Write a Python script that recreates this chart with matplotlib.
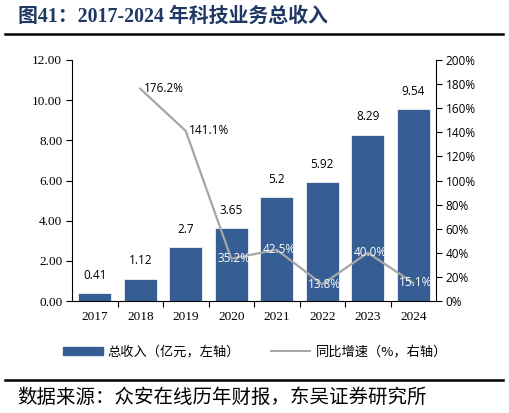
import matplotlib
matplotlib.use("Agg")
import matplotlib.pyplot as plt
from matplotlib.patches import Patch
from matplotlib.lines import Line2D
import numpy as np

years = ["2017", "2018", "2019", "2020", "2021", "2022", "2023", "2024"]
revenue = [0.41, 1.12, 2.7, 3.65, 5.2, 5.92, 8.29, 9.54]
growth_years_idx = [1, 2, 3, 4, 5, 6, 7]
growth = [176.2, 141.1, 35.2, 42.5, 13.8, 40.0, 15.1]
rev_labels = ["0.41", "1.12", "2.7", "3.65", "5.2", "5.92", "8.29", "9.54"]
left_ticks = [0, 2, 4, 6, 8, 10, 12]
right_ticks = [0, 20, 40, 60, 80, 100, 120, 140, 160, 180, 200]

title = "图41：2017-2024 年科技业务总收入"
source = "数据来源：众安在线历年财报，东吴证券研究所"
leg_bar = "总收入（亿元，左轴）"
leg_line = "同比增速（%，右轴）"

bar_color = "#365E94"
line_color = "#A6A6A6"
cjk = ["Liberation Serif", "Noto Sans CJK SC"]
cjk_sans = ["Noto Sans CJK SC", "DejaVu Sans"]
num_font = ["Open Sans"]

fig = plt.figure(figsize=(5.09, 4.13), dpi=100)
W, H = 509, 413
ax = fig.add_axes([72 / W, 1 - 301 / H, (436 - 72) / W, (301 - 60) / H])
ax2 = ax.twinx()

x = np.arange(len(years))
ax.bar(x, revenue, width=0.72, color=bar_color, edgecolor="white", linewidth=0.5, zorder=2)
ax.set_xlim(-0.5, len(years) - 0.5)
ax.set_ylim(0, 12)
ax.set_yticks(left_ticks)
ax.set_yticklabels([f"{v:.2f}" for v in left_ticks], fontfamily="Liberation Serif", fontsize=9.5)
ax.set_xticks(x)
ax.set_xticklabels(years, fontfamily="Liberation Serif", fontsize=9.5)
ax.tick_params(axis="x", length=0, pad=7)
ax.set_xticks(np.arange(0.5, len(years) - 0.5, 1), minor=True)
ax.tick_params(axis="x", which="minor", length=4, direction="out", width=0.8)
ax.tick_params(axis="y", length=4, direction="out", width=0.8, pad=3)
for s in ["top", "right"]:
    ax.spines[s].set_visible(False)
ax.spines["left"].set_linewidth(0.8)
ax.spines["bottom"].set_linewidth(0.8)

for xi, v, lab in zip(x, revenue, rev_labels):
    ax.text(xi, v + 0.55, lab, ha="center", va="bottom", fontsize=8.5, fontfamily=num_font, color="black")

gx = np.array(growth_years_idx)
ax2.plot(gx, growth, color=line_color, linewidth=1.6, zorder=3)
ax2.set_ylim(0, 200)
ax2.set_yticks(right_ticks)
ax2.set_yticklabels([f"{v}%" for v in right_ticks], fontfamily=num_font, fontsize=8.5)
ax2.tick_params(axis="y", length=4, direction="out", width=0.8, pad=3)
for s in ["top", "left", "bottom"]:
    ax2.spines[s].set_visible(False)
ax2.spines["right"].set_linewidth(0.8)
ax2.set_xlim(-0.5, len(years) - 0.5)

for i, (xi, g) in enumerate(zip(gx, growth)):
    lab = f"{g:.1f}%"
    if i < 2:
        ax2.text(xi + 0.07, g, lab, ha="left", va="center", fontsize=8.5, fontfamily=num_font, color="black")
    else:
        ax2.text(xi + 0.05, g, lab, ha="center", va="center", fontsize=8.5, fontfamily=num_font, color="white")

# title and rules
fig.text(18 / W, 1 - 17 / H, title, fontsize=14.3, fontweight="bold", color="#1F3864",
         fontfamily=cjk, ha="left", va="center")
fig.add_artist(Line2D([5 / W, 503 / W], [1 - 34 / H, 1 - 34 / H], color="black", linewidth=1.8))
fig.add_artist(Line2D([5 / W, 503 / W], [1 - 380 / H, 1 - 380 / H], color="black", linewidth=1.8))
fig.text(17 / W, 1 - 397 / H, source, fontsize=14, fontfamily=cjk_sans, ha="left", va="center")

handles = [Patch(facecolor=bar_color, edgecolor=bar_color),
           Line2D([0], [0], color=line_color, linewidth=1.4)]
fig.legend(handles, [leg_bar, leg_line], loc="center", bbox_to_anchor=(255 / W, 1 - 352 / H),
           ncol=2, frameon=False, prop={"family": cjk_sans, "size": 9.5},
           handlelength=3.0, handleheight=0.5, columnspacing=2.3, handletextpad=0.4)

fig.savefig("out.png", dpi=100)
